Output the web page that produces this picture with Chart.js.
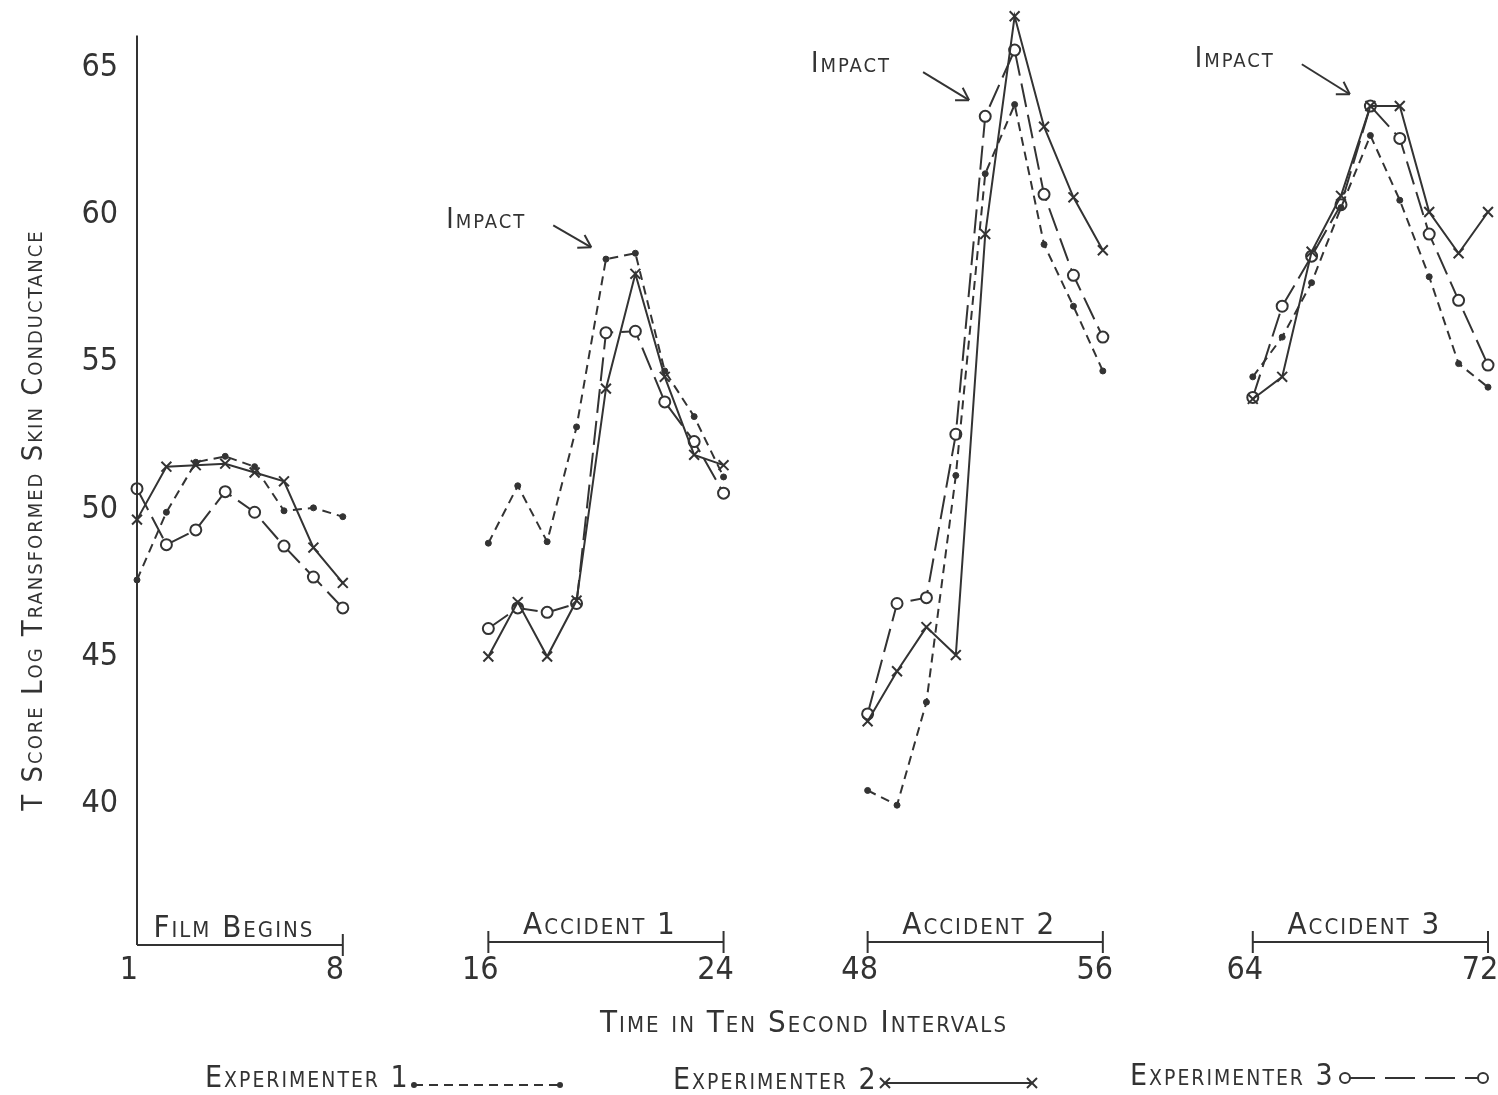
<!DOCTYPE html>
<html>
<head>
<meta charset="utf-8">
<title>Skin conductance by experimenter</title>
<script src="https://cdn.jsdelivr.net/npm/chart.js@4.4.1/dist/chart.umd.min.js"></script>
<style>
  html, body { margin: 0; padding: 0; background: #fff; }
  #wrap { width: 1498px; height: 1095px; }
</style>
</head>
<body>
<div id="wrap"><canvas id="chart" width="1498" height="1095"></canvas></div>
<script>
'use strict';

// ---- data ----
const filmTimes = [1, 2, 3, 4, 5, 6, 7, 8];
const acc1Times = [16, 17, 18, 19, 20, 21, 22, 23, 24];
const acc2Times = [48, 49, 50, 51, 52, 53, 54, 55, 56];
const acc3Times = [64, 65, 66, 67, 68, 69, 70, 71, 72];

const exp1Film = [47.6, 49.9, 51.6, 51.8, 51.45, 49.95, 50.05, 49.75];
const exp2Film = [49.65, 51.45, 51.5, 51.55, 51.25, 50.95, 48.7, 47.5];
const exp3Film = [50.7, 48.8, 49.3, 50.6, 49.9, 48.75, 47.7, 46.65];

const exp1Acc1 = [48.85, 50.8, 48.9, 52.8, 58.5, 58.7, 54.7, 53.15, 51.1];
const exp2Acc1 = [45.0, 46.85, 45.0, 46.9, 54.1, 58.0, 54.5, 51.85, 51.5];
const exp3Acc1 = [45.95, 46.65, 46.5, 46.8, 56.0, 56.05, 53.65, 52.3, 50.55];

const exp1Acc2 = [40.45, 39.95, 43.45, 51.15, 61.4, 63.75, 59.0, 56.9, 54.7];
const exp2Acc2 = [42.8, 44.5, 46.0, 45.05, 59.35, 66.75, 63.0, 60.6, 58.8];
const exp3Acc2 = [43.05, 46.8, 47.0, 52.55, 63.35, 65.6, 60.7, 57.95, 55.85];

const exp1Acc3 = [54.5, 55.85, 57.7, 60.25, 62.7, 60.5, 57.9, 54.95, 54.15];
const exp2Acc3 = [53.75, 54.5, 58.75, 60.65, 63.7, 63.7, 60.1, 58.7, 60.1];
const exp3Acc3 = [53.8, 56.9, 58.6, 60.35, 63.7, 62.6, 59.35, 57.1, 54.9];

const segmentNames = ['Film Begins', 'Accident 1', 'Accident 2', 'Accident 3'];
const xTickLabels = [1, 8, 16, 24, 48, 56, 64, 72];
const yTickValues = [40, 45, 50, 55, 60, 65];
const seriesNames = ['Experimenter 1', 'Experimenter 2', 'Experimenter 3'];

// "Impact" arrows point at (time, T score)
const impactTimes = [19.5, 51.45, 67.3];
const impactScores = [58.9, 63.9, 64.1];

// ---- layout ----
const FONT = "'Liberation Sans Narrow', 'DejaVu Sans Condensed', 'Liberation Sans', sans-serif";
const INK = '#333';
const AXIS_TOP = 66.1;                          // the drawn y axis stops here
const SLOT_START = [0, 11.95, 24.85, 37.95];   // where each segment sits on the broken x axis
const IMPACT_TEXT = [[-105, -19], [-118, -28], [-115, -27]];  // label offset from arrow tip
const IMPACT_TAIL = [[-38, -22], [-46, -28], [-48, -30]];

const segments = [
  { times: filmTimes, e1: exp1Film, e2: exp2Film, e3: exp3Film },
  { times: acc1Times, e1: exp1Acc1, e2: exp2Acc1, e3: exp3Acc1 },
  { times: acc2Times, e1: exp1Acc2, e2: exp2Acc2, e3: exp3Acc2 },
  { times: acc3Times, e1: exp1Acc3, e2: exp2Acc3, e3: exp3Acc3 }
];

function slotOf(t) {
  // map a real time onto the compressed axis
  let seg = 0;
  segments.forEach((s, i) => { if (t >= s.times[0]) seg = i; });
  return SLOT_START[seg] + (t - segments[seg].times[0]);
}

function seriesPoints(key) {
  const pts = [];
  segments.forEach((s, i) => {
    if (i > 0) pts.push({ x: SLOT_START[i] - 2, y: null });   // break the line
    s.times.forEach((t, j) => pts.push({ x: slotOf(t), y: s[key][j] }));
  });
  return pts;
}

const tickSlots = [];
segments.forEach(s => {
  tickSlots.push(slotOf(s.times[0]));
  tickSlots.push(slotOf(s.times[s.times.length - 1]));
});

function scText(ctx, text, x, y, size, align) {
  ctx.save();
  ctx.font = `small-caps ${size}px ${FONT}`;
  ctx.letterSpacing = '2px';
  ctx.fillStyle = INK;
  ctx.textAlign = align || 'center';
  ctx.textBaseline = 'alphabetic';
  ctx.fillText(text, x, y);
  ctx.restore();
}

function line(ctx, x1, y1, x2, y2, dash) {
  ctx.save();
  ctx.setLineDash(dash || []);
  ctx.beginPath();
  ctx.moveTo(x1, y1);
  ctx.lineTo(x2, y2);
  ctx.stroke();
  ctx.restore();
}

function marker(ctx, kind, x, y) {
  ctx.save();
  ctx.setLineDash([]);
  if (kind === 0) {
    ctx.beginPath(); ctx.arc(x, y, 3, 0, Math.PI * 2); ctx.fill();
  } else if (kind === 1) {
    line(ctx, x - 5, y - 5, x + 5, y + 5);
    line(ctx, x - 5, y + 5, x + 5, y - 5);
  } else {
    ctx.beginPath(); ctx.arc(x, y, 5, 0, Math.PI * 2);
    ctx.fillStyle = '#fff'; ctx.fill(); ctx.stroke();
  }
  ctx.restore();
}

const decor = {
  id: 'decor',
  afterDraw(chart) {
    const { ctx, chartArea: a, scales: { x, y } } = chart;
    ctx.save();
    ctx.strokeStyle = INK;
    ctx.fillStyle = INK;
    ctx.lineWidth = 2;

    // y axis line
    line(ctx, a.left, y.getPixelForValue(AXIS_TOP), a.left, a.bottom);

    // segment brackets + names
    segments.forEach((s, i) => {
      const x0 = x.getPixelForValue(slotOf(s.times[0]));
      const x1 = x.getPixelForValue(slotOf(s.times[s.times.length - 1]));
      const by = a.bottom - (i === 0 ? 0 : 3);
      line(ctx, x0, by, x1, by);
      if (i > 0) line(ctx, x0, by - 11, x0, by + 11);
      line(ctx, x1, by - 11, x1, by + 11);
      scText(ctx, segmentNames[i], (x0 + x1) / 2 - 6, by - 8, 31);
    });

    // axis titles
    ctx.save();
    ctx.translate(42, 520);
    ctx.rotate(-Math.PI / 2);
    scText(ctx, 'T Score Log Transformed Skin Conductance', 0, 0, 29);
    ctx.restore();
    scText(ctx, 'Time in Ten Second Intervals', 804, 1032, 31);

    // impact arrows
    impactTimes.forEach((t, i) => {
      const tx = x.getPixelForValue(slotOf(t));
      const ty = y.getPixelForValue(impactScores[i]);
      const sx = tx + IMPACT_TAIL[i][0], sy = ty + IMPACT_TAIL[i][1];
      line(ctx, sx, sy, tx, ty);
      const ang = Math.atan2(ty - sy, tx - sx);
      [0.55, -0.55].forEach(d => {
        line(ctx, tx, ty, tx - 14 * Math.cos(ang + d), ty - 14 * Math.sin(ang + d));
      });
      scText(ctx, 'Impact', tx + IMPACT_TEXT[i][0], ty + IMPACT_TEXT[i][1], 28);
    });

    // legend
    const legend = [
      { tx: 205, ty: 1087, x0: 414, x1: 560, ly: 1085, dash: [9, 6] },
      { tx: 673, ty: 1089, x0: 885, x1: 1032, ly: 1083, dash: [] },
      { tx: 1130, ty: 1085, x0: 1345, x1: 1483, ly: 1078, dash: [30, 10] }
    ];
    legend.forEach((l, i) => {
      scText(ctx, seriesNames[i], l.tx, l.ty, 30, 'left');
      line(ctx, l.x0, l.ly, l.x1, l.ly, l.dash);
      marker(ctx, i, l.x0, l.ly);
      marker(ctx, i, l.x1, l.ly);
    });
    ctx.restore();
  }
};

const common = { borderColor: INK, borderWidth: 2, tension: 0, fill: false, spanGaps: false, clip: false };

new Chart(document.getElementById('chart'), {
  type: 'line',
  data: {
    datasets: [
      { ...common, label: seriesNames[0], data: seriesPoints('e1'), borderDash: [9, 6],
        pointStyle: 'circle', pointRadius: 3, pointBackgroundColor: INK, pointBorderColor: INK, pointBorderWidth: 1 },
      { ...common, label: seriesNames[1], data: seriesPoints('e2'),
        pointStyle: 'crossRot', pointRadius: 7, pointBorderColor: INK, pointBorderWidth: 2 },
      { ...common, label: seriesNames[2], data: seriesPoints('e3'), borderDash: [24, 8],
        pointStyle: 'circle', pointRadius: 5.5, pointBackgroundColor: '#fff', pointBorderColor: INK, pointBorderWidth: 2 }
    ]
  },
  options: {
    responsive: false,
    animation: false,
    devicePixelRatio: 1,
    layout: { autoPadding: false, padding: { top: 3, right: 10, left: 0, bottom: 0 } },
    plugins: { legend: { display: false }, tooltip: { enabled: false } },
    scales: {
      x: {
        type: 'linear',
        min: 0,
        max: 45.95,
        grid: { display: false, drawTicks: false },
        border: { display: false },
        afterBuildTicks: scale => { scale.ticks = tickSlots.map(v => ({ value: v })); },
        afterFit: scale => { scale.height = 150; scale.paddingLeft = 0; scale.paddingRight = 0; },
        ticks: {
          autoSkip: false, maxRotation: 0, padding: 6, labelOffset: -8, color: INK,
          font: { family: FONT, size: 32 },
          callback: (v, i) => xTickLabels[i]
        }
      },
      y: {
        min: 35.2,
        max: 67.2,
        grid: { display: false, drawTicks: false },
        border: { display: false },
        afterBuildTicks: scale => { scale.ticks = yTickValues.map(v => ({ value: v })); },
        afterFit: scale => { scale.width = 137; scale.paddingTop = 0; scale.paddingBottom = 0; },
        ticks: { padding: 19, color: INK, font: { family: FONT, size: 32 } }
      }
    }
  },
  plugins: [decor]
});
</script>
</body>
</html>
